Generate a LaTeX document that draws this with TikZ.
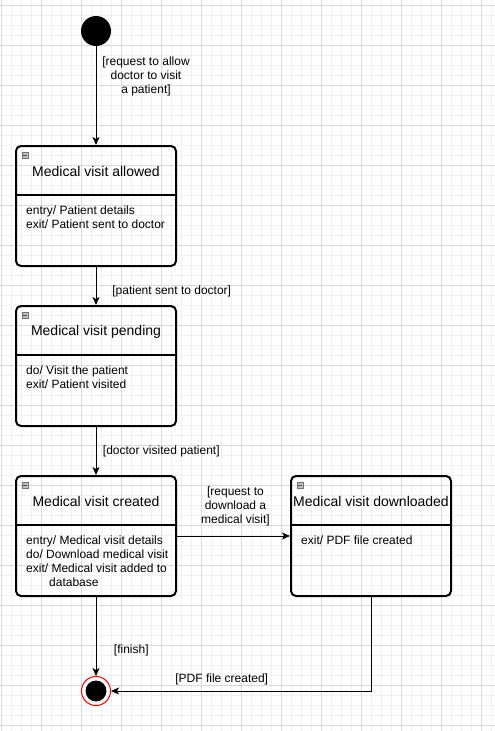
\documentclass[tikz,border=0pt]{standalone}
\usepackage{fontspec}
\setmainfont{Liberation Sans}
\usetikzlibrary{arrows.meta}

\begin{document}
\begin{tikzpicture}[x=1pt,y=-1pt,
  vstate/.style={draw,line width=2pt,rounded corners=5pt,minimum width=160pt,minimum height=120pt,inner sep=0pt},
  vtitle/.style={font=\fontsize{14}{16}\selectfont,inner sep=0pt},
  vbody/.style={font=\fontsize{12}{14}\selectfont,align=left,anchor=west,inner sep=0pt},
  vguard/.style={font=\fontsize{12}{14}\selectfont,align=center,inner sep=0pt},
  vicon/.style={draw=black!55,fill=black!25,line width=0.6pt,minimum width=6pt,minimum height=6pt,inner sep=0pt,
    path picture={\draw[line width=0.8pt,black!70] ([xshift=1pt]path picture bounding box.west) -- ([xshift=-1pt]path picture bounding box.east);}},
  trans/.style={line width=1pt,-{Stealth[length=8pt,width=7pt,inset=2pt]}},
  minorline/.style={draw=black!6,line width=1pt},
  majorline/.style={draw=black!15,line width=1pt}]
\useasboundingbox (0,0) rectangle (495,731);
\fill[white] (0,0) rectangle (495,731);
\foreach \x in {1.5,11.5,...,491.5} \draw[minorline] (\x,0) -- (\x,731);
\foreach \y in {5.5,15.5,...,725.5} \draw[minorline] (0,\y) -- (495,\y);
\foreach \x in {1.5,41.5,...,481.5} \draw[majorline] (\x,0) -- (\x,731);
\foreach \y in {5.5,45.5,...,725.5} \draw[majorline] (0,\y) -- (495,\y);

\node[circle,fill,minimum size=30pt,inner sep=0pt] (init) at (96,31) {};

\node[vstate] (allowed) at (96,206) {};
\draw[line width=2pt] ([yshift=-50pt]allowed.north west) -- ([yshift=-50pt]allowed.north east);
\node[vicon] (allowedicon) at ([shift={(10pt,-10pt)}]allowed.north west) {};
\node[vtitle] (allowedname) at (96,171) {Medical visit allowed};
\node[vbody] (allowedacts) at (26,217) {entry/ Patient details\\exit/ Patient sent to doctor};

\node[vstate] (pending) at (96,366) {};
\draw[line width=2pt] ([yshift=-50pt]pending.north west) -- ([yshift=-50pt]pending.north east);
\node[vicon] (pendingicon) at ([shift={(10pt,-10pt)}]pending.north west) {};
\node[vtitle] (pendingname) at (96,331.5) {Medical visit pending};
\node[vbody] (pendingacts) at (26,377) {do/ Visit the patient\\exit/ Patient visited};

\node[vstate] (created) at (96,536) {};
\draw[line width=2pt] ([yshift=-50pt]created.north west) -- ([yshift=-50pt]created.north east);
\node[vicon] (createdicon) at ([shift={(10pt,-10pt)}]created.north west) {};
\node[vtitle] (createdname) at (96,501) {Medical visit created};
\node[vbody] (createdacts) at (26,561.3) {entry/ Medical visit details\\do/ Download medical visit\\exit/ Medical visit added to\\\hspace*{23pt}database};

\node[vstate] (downloaded) at (371,536) {};
\draw[line width=2pt] ([yshift=-50pt]downloaded.north west) -- ([yshift=-50pt]downloaded.north east);
\node[vicon] (downloadedicon) at ([shift={(10pt,-10pt)}]downloaded.north west) {};
\node[vtitle] (downloadedname) at (371,501) {Medical visit downloaded};
\node[vbody] (downloadedacts) at (301,540) {exit/ PDF file created};

\node[circle,draw=red,fill=white,line width=1pt,minimum size=29pt,inner sep=0pt] (final) at (96,691) {};
\node[circle,fill,minimum size=21pt,inner sep=0pt] (finaldot) at (final) {};

\draw[trans] (init) -- (allowed);
\draw[trans] (allowed) -- (pending);
\draw[trans] (pending) -- (created);
\draw[trans] (created) -- (downloaded);
\draw[trans] (created) -- (final);
\draw[trans] (downloaded) |- (final);

\node[vguard] (allowguard) at (146,76.5) {[request to allow\\doctor to visit\\a patient]};
\node[vguard] (sentguard) at (171.7,291) {[patient sent to doctor]};
\node[vguard] (visitedguard) at (161.3,451) {[doctor visited patient]};
\node[vguard] (downloadguard) at (235.5,506.3) {[request to\\download a\\medical visit]};
\node[vguard] (finishguard) at (131.3,650) {[finish]};
\node[vguard] (pdfguard) at (221.7,679) {[PDF file created]};

\end{tikzpicture}
\end{document}
